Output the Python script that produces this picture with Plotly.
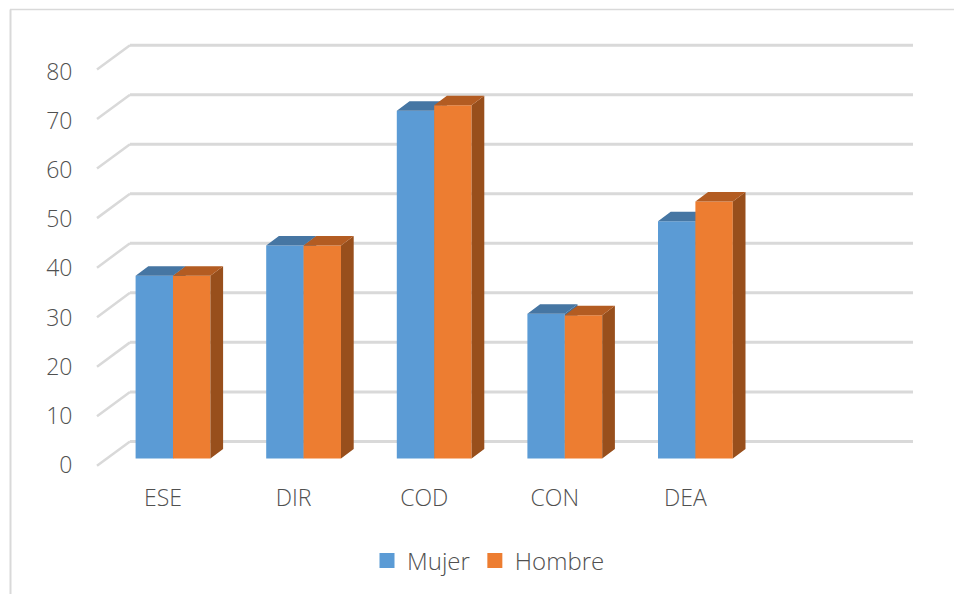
import plotly.graph_objects as go

categories = ["ESE", "DIR", "COD", "CON", "DEA"]
mujer = [36.9, 43.0, 70.2, 29.2, 47.9]
hombre = [36.9, 43.0, 71.3, 28.9, 51.9]
y_ticks = [0, 10, 20, 30, 40, 50, 60, 70, 80]

BLUE, BLUE_TOP = "#5B9BD5", "#4676A3"
ORANGE, ORANGE_TOP, ORANGE_SIDE = "#ED7D31", "#B35C22", "#984F1C"
BLUE_SIDE = "#3F6E9A"
GRID = "#D9D9D9"
TEXT = "#505050"
FONT = "Open Sans"

W, H = 954, 594
FIG_H = 598.8                     # layout height that makes the plot fill the 594 px window
PX_CAT, X0_PX = 130.6, 173.0      # pixels per category, pixel of first category
PX_VAL, Y0_PX = 4.945, 457.7      # pixels per unit, pixel of value 0
L, R, T, B = 90, 925, 30, 475     # plot area in pixels

xr = [(L - X0_PX) / PX_CAT, (R - X0_PX) / PX_CAT]
yr = [(Y0_PX - B) / PX_VAL, (Y0_PX - T) / PX_VAL]
y_domain = [(H - B) / H, (H - T) / H]

bar_w = 37.4 / PX_CAT
dep_x, dep_y = 12.7 / PX_CAT, 9.5 / PX_VAL             # bar depth
wall_front_x, wall_back_x = (97 - X0_PX) / PX_CAT, (130 - X0_PX) / PX_CAT
wall_end_x = (913 - X0_PX) / PX_CAT
wall_front_y, wall_back_y = (Y0_PX - 465) / PX_VAL, (Y0_PX - 440.7) / PX_VAL
label_shift = 10 / PX_CAT
ylabel_scale, ylabel_base = 0.991, -1.27               # label row is slightly tighter than the wall


def faces(values, start):
    side_x, side_y, top_x, top_y = [], [], [], []
    for i, v in enumerate(values):
        a = i + start
        b = a + bar_w
        side_x += [b, b + dep_x, b + dep_x, b, b, None]
        side_y += [0, dep_y, v + dep_y, v, 0, None]
        top_x += [a, a + dep_x, b + dep_x, b, a, None]
        top_y += [v, v + dep_y, v + dep_y, v, v, None]
    return side_x, side_y, top_x, top_y


def add_series(fig, name, values, start, front, top, side, xa, ya):
    idx = list(range(len(values)))
    fig.add_trace(go.Bar(x=idx, y=values, width=bar_w, offset=start, marker=dict(color=front, line_width=0),
                         showlegend=False, xaxis=xa, yaxis=ya, name=name))
    sx, sy, tx, ty = faces(values, start)
    for fx, fy_, c in ((sx, sy, side), (tx, ty, top)):
        fig.add_trace(go.Scatter(x=fx, y=fy_, mode="lines", line=dict(width=0, color=c), fill="toself",
                                 fillcolor=c, showlegend=False, xaxis=xa, yaxis=ya, hoverinfo="skip"))
    fig.add_trace(go.Scatter(x=[None], y=[None], mode="markers", name=name,
                             marker=dict(symbol="square", size=15, color=front), xaxis=xa, yaxis=ya))


fig = go.Figure()
add_series(fig, "Mujer", mujer, -bar_w, BLUE, BLUE_TOP, BLUE_SIDE, "x", "y")
add_series(fig, "Hombre", hombre, 0, ORANGE, ORANGE_TOP, ORANGE_SIDE, "x2", "y2")

shapes = []
for v in y_ticks:
    base_f, base_b = v + wall_front_y, v + wall_back_y
    shapes.append(dict(type="line", layer="below", xref="x", yref="y", x0=wall_front_x, x1=wall_back_x,
                       y0=base_f, y1=base_b, line=dict(color=GRID, width=2.5)))
    shapes.append(dict(type="line", layer="below", xref="x", yref="y", x0=wall_back_x, x1=wall_end_x,
                       y0=base_b, y1=base_b, line=dict(color=GRID, width=3)))

# outer chart frame: only the top and left edges are visible in the picture
px = lambda x: (x - L) / (R - L)
py = lambda y: (H - y) / H
shapes.append(dict(type="line", xref="paper", yref="paper", x0=px(10), x1=px(954), y0=py(9.5), y1=py(9.5),
                   line=dict(color="#D9D9D9", width=1.5)))
shapes.append(dict(type="line", xref="paper", yref="paper", x0=px(10.5), x1=px(10.5), y0=py(9.5), y1=py(594),
                   line=dict(color="#D9D9D9", width=2)))

tick_font = dict(size=23, color=TEXT, family=FONT, weight=300)
legend_font = dict(size=24, color=TEXT, family=FONT, weight=300)

fig.update_layout(
    width=W, height=FIG_H, autosize=False, barmode="overlay",
    margin=dict(l=L, r=W - R, t=0, b=0, pad=0),
    paper_bgcolor="white", plot_bgcolor="rgba(0,0,0,0)",
    font=dict(family=FONT, color=TEXT),
    shapes=shapes,
    legend=dict(orientation="h", x=px(367), xanchor="left", y=py(560), yanchor="middle",
                font=legend_font, bgcolor="rgba(0,0,0,0)", itemwidth=30),
    xaxis=dict(range=xr, tickmode="array", tickvals=[i - label_shift for i in range(len(categories))],
               ticktext=categories, showgrid=False, zeroline=False, showline=False,
               ticks="outside", ticklen=2, tickcolor="rgba(0,0,0,0)", tickfont=tick_font),
    yaxis=dict(range=yr, domain=y_domain, tickmode="array",
               tickvals=[ylabel_scale * v + ylabel_base for v in y_ticks],
               ticktext=[str(v) for v in y_ticks], showgrid=False, zeroline=False, showline=False,
               ticks="outside", ticklen=12, tickcolor="rgba(0,0,0,0)", tickfont=tick_font),
    xaxis2=dict(range=xr, overlaying="x", visible=False),
    yaxis2=dict(range=yr, domain=y_domain, overlaying="y", visible=False),
)

fig.write_html("out.html", config={"displayModeBar": False},
               post_script="document.body.style.margin='0';document.body.style.overflow='hidden';")
